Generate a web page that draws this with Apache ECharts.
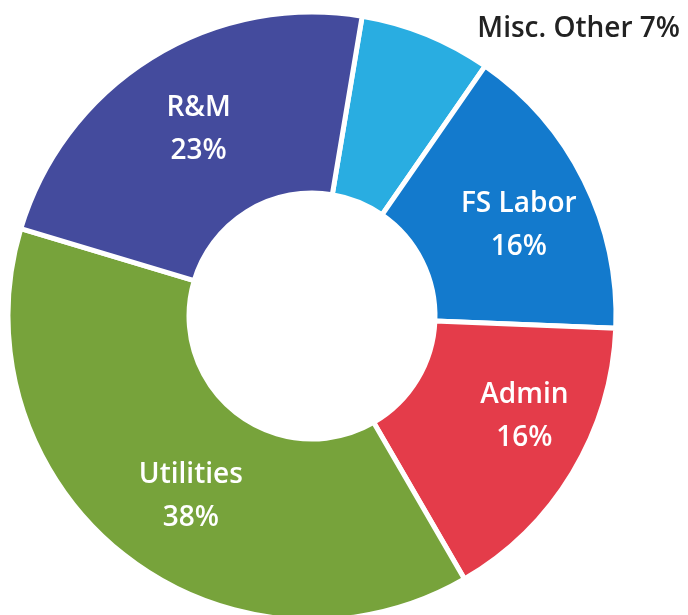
<!DOCTYPE html>
<html>
<head>
<meta charset="utf-8">
<script src="https://cdn.jsdelivr.net/npm/echarts@6/dist/echarts.min.js"></script>
<style>
    html, body { margin: 0; padding: 0; background: #fff; }
    #chart { width: 688px; height: 615px; }
</style>
</head>
<body>
<div id="chart"></div>
<script>
// 数据：顺时针从 Misc. Other 开始
const categories = ["Misc. Other", "FS Labor", "Admin", "Utilities", "R&M"];
const shares = [7, 16, 16, 38, 23];
const sliceColors = ["#29ade1", "#137acd", "#e43c4a", "#77a33b", "#444b9d"];
// 标签微调（样式用）
const labelNudge = [[0, -5], [13, 6], [27, -11], [13, 11], [1, -3]];

const chart = echarts.init(document.getElementById("chart"));

const pieData = categories.map((name, i) => {
    const item = {
        name: name,
        value: shares[i],
        itemStyle: { color: sliceColors[i] },
    };
    // 小扇区标签放在外侧
    if (i === 0) {
        item.label = {
            position: "outside",
            color: "#222",
            fontSize: 28,
            lineHeight: 32,
            formatter: (p) => `${p.name} ${p.value}%`,
        };
        item.labelLine = { show: false, length: 0, length2: 46 };
    }
    return item;
});

chart.setOption({
    backgroundColor: "#fff",
    animation: false,
    series: [{
        type: "pie",
        center: [312, 316],
        radius: [123, 304],
        startAngle: 80.5,
        clockwise: true,
        avoidLabelOverlap: false,
        itemStyle: { borderColor: "#fff", borderWidth: 5 },
        label: {
            show: true,
            position: "inside",
            color: "#fff",
            fontFamily: "Open Sans",
            fontWeight: 600,
            fontSize: 28,
            lineHeight: 43,
            formatter: (p) => `${p.name}\n${p.value}%`,
        },
        labelLine: { show: false },
        labelLayout: (p) => ({ dx: labelNudge[p.dataIndex][0], dy: labelNudge[p.dataIndex][1] }),
        data: pieData,
    }],
});
</script>
</body>
</html>
